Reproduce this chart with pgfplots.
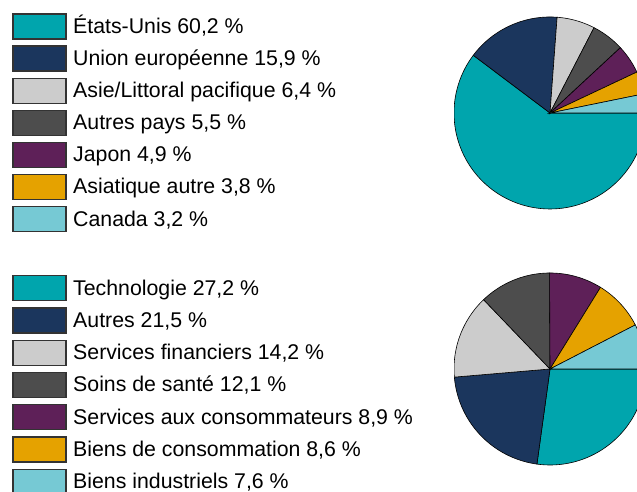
\documentclass[border=0pt]{standalone}
\usepackage{fontspec}
\setmainfont{Liberation Sans}
\usepackage{pgfplots}
\pgfplotsset{compat=1.18}

\definecolor{cTeal}{RGB}{0,165,173}
\definecolor{cNavy}{RGB}{27,54,93}
\definecolor{cLGray}{RGB}{204,204,204}
\definecolor{cDGray}{RGB}{77,77,77}
\definecolor{cPurple}{RGB}{94,32,88}
\definecolor{cGold}{RGB}{229,162,0}
\definecolor{cCyan}{RGB}{118,201,212}

% one pie slice: value (in %), colour; \tot = sum of the slices, \cum = running sum
\newcommand{\slice}[2]{%
  \pgfmathsetmacro\sb{-(\cum)/\tot*360}%
  \pgfmathsetmacro\newcum{\cum+#1}%
  \pgfmathsetmacro\sa{-(\newcum)/\tot*360}%
  \global\let\cum\newcum
  \addplot[draw=black, line width=0.6pt, fill=#2, domain=\sa:\sb, samples=90, variable=\t]
    ({96*cos(\t)},{96*sin(\t)}) -- (axis cs:0,0) -- cycle;
}

% legend row: image y of the row centre, colour, text
\newcommand{\legrow}[3]{%
  \draw[fill=#2, draw=black!80, line width=1.2pt] (13,{492-#1-12.5}) rectangle (66,{492-#1+12.5});
  \node[anchor=base west, inner sep=0pt, font=\fontsize{21.3}{25}\selectfont] at (73,{492-#1-7}) {#3};
}

\begin{document}
\begin{tikzpicture}[x=1pt,y=1pt]
\useasboundingbox (0,0) rectangle (637,492);
\clip (0,0) rectangle (637,492);

% ---------- first pie : regions ----------
\def\tot{99.9}\gdef\cum{0}
\begin{axis}[at={(454pt,282pt)}, anchor=south west, x=1pt, y=1pt,
  xmin=-96, xmax=87, ymin=-97, ymax=97, hide axis, clip=true]
\slice{60.2}{cTeal}
\slice{15.9}{cNavy}
\slice{6.4}{cLGray}
\slice{5.5}{cDGray}
\slice{4.9}{cPurple}
\slice{3.8}{cGold}
\slice{3.2}{cCyan}
\end{axis}

% ---------- second pie : sectors ----------
\def\tot{100.1}\gdef\cum{0}
\begin{axis}[at={(454pt,26pt)}, anchor=south west, x=1pt, y=1pt,
  xmin=-96, xmax=87, ymin=-97, ymax=97, hide axis, clip=true]
\slice{27.2}{cTeal}
\slice{21.5}{cNavy}
\slice{14.2}{cLGray}
\slice{12.1}{cDGray}
\slice{8.9}{cPurple}
\slice{8.6}{cGold}
\slice{7.6}{cCyan}
\end{axis}

% ---------- legends ----------
\legrow{26.5}{cTeal}{États-Unis 60,2 \%}
\legrow{58.6}{cNavy}{Union européenne 15,9 \%}
\legrow{90.7}{cLGray}{Asie/Littoral pacifique 6,4 \%}
\legrow{122.8}{cDGray}{Autres pays 5,5 \%}
\legrow{154.9}{cPurple}{Japon 4,9 \%}
\legrow{187.0}{cGold}{Asiatique autre 3,8 \%}
\legrow{219.1}{cCyan}{Canada 3,2 \%}

\legrow{288.2}{cTeal}{Technologie 27,2 \%}
\legrow{320.45}{cNavy}{Autres 21,5 \%}
\legrow{352.7}{cLGray}{Services financiers 14,2 \%}
\legrow{384.95}{cDGray}{Soins de santé 12,1 \%}
\legrow{417.2}{cPurple}{Services aux consommateurs 8,9 \%}
\legrow{449.45}{cGold}{Biens de consommation 8,6 \%}
\legrow{481.7}{cCyan}{Biens industriels 7,6 \%}
\end{tikzpicture}
\end{document}
